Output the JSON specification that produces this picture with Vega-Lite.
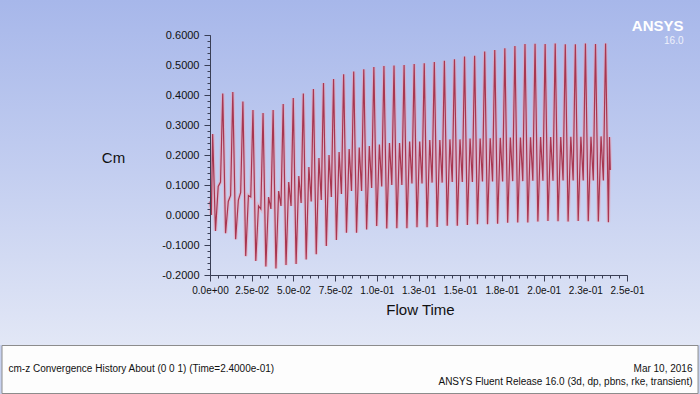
{
  "$schema": "https://vega.github.io/schema/vega-lite/v6.json",
  "width": 417,
  "height": 240,
  "autosize": {"type": "none"},
  "padding": {"left": 210, "top": 35, "right": 73, "bottom": 119},
  "background": "#c8d2f0",
  "config": {"view": {"stroke": null}, "font": "Liberation Sans"},
  "datasets": {
    "cm": [
      {"t":0,"cm":0.045},{"t":0.0008,"cm":0.0},
      {"t":0.0016,"cm":0.27},{"t":0.00329,"cm":-0.053},{"t":0.00492,"cm":0.095},{"t":0.00631,"cm":0.11},
      {"t":0.00764,"cm":0.405},{"t":0.00933,"cm":-0.061},{"t":0.01096,"cm":0.045},{"t":0.01235,"cm":0.065},
      {"t":0.01368,"cm":0.41},{"t":0.01537,"cm":-0.081},{"t":0.017,"cm":0.05},{"t":0.01839,"cm":0.075},
      {"t":0.01972,"cm":0.378},{"t":0.02141,"cm":-0.137},{"t":0.02304,"cm":0.065},{"t":0.02443,"cm":0.06},
      {"t":0.02576,"cm":0.35},{"t":0.02745,"cm":-0.153},{"t":0.02908,"cm":0.03},{"t":0.03047,"cm":0.02},
      {"t":0.0318,"cm":0.34},{"t":0.03349,"cm":-0.172},{"t":0.03512,"cm":0.06},{"t":0.03651,"cm":0.02},
      {"t":0.03784,"cm":0.35},{"t":0.03953,"cm":-0.178},{"t":0.04116,"cm":0.08},{"t":0.04255,"cm":0.03},
      {"t":0.04388,"cm":0.37},{"t":0.04557,"cm":-0.167},{"t":0.0472,"cm":0.11},{"t":0.04859,"cm":0.03},
      {"t":0.04992,"cm":0.39},{"t":0.05161,"cm":-0.163},{"t":0.05324,"cm":0.13},{"t":0.05463,"cm":0.04},
      {"t":0.05596,"cm":0.405},{"t":0.05765,"cm":-0.148},{"t":0.05928,"cm":0.16},{"t":0.06067,"cm":0.045},
      {"t":0.062,"cm":0.42},{"t":0.06369,"cm":-0.131},{"t":0.06532,"cm":0.19},{"t":0.06671,"cm":0.05},
      {"t":0.06804,"cm":0.44},{"t":0.06973,"cm":-0.103},{"t":0.07136,"cm":0.2},{"t":0.07275,"cm":0.06},
      {"t":0.07408,"cm":0.453},{"t":0.07577,"cm":-0.083},{"t":0.0774,"cm":0.21},{"t":0.07879,"cm":0.07},
      {"t":0.08012,"cm":0.469},{"t":0.08181,"cm":-0.059},{"t":0.08344,"cm":0.22},{"t":0.08483,"cm":0.08},
      {"t":0.08616,"cm":0.478},{"t":0.08785,"cm":-0.059},{"t":0.08948,"cm":0.225},{"t":0.09087,"cm":0.08},
      {"t":0.0922,"cm":0.486},{"t":0.09389,"cm":-0.048},{"t":0.09552,"cm":0.23},{"t":0.09691,"cm":0.09},
      {"t":0.09824,"cm":0.493},{"t":0.09993,"cm":-0.037},{"t":0.10156,"cm":0.235},{"t":0.10295,"cm":0.095},
      {"t":0.10428,"cm":0.497},{"t":0.10597,"cm":-0.045},{"t":0.1076,"cm":0.24},{"t":0.10899,"cm":0.1},
      {"t":0.11032,"cm":0.498},{"t":0.11201,"cm":-0.044},{"t":0.11364,"cm":0.24},{"t":0.11503,"cm":0.1},
      {"t":0.11636,"cm":0.5},{"t":0.11805,"cm":-0.044},{"t":0.11968,"cm":0.245},{"t":0.12107,"cm":0.105},
      {"t":0.1224,"cm":0.503},{"t":0.12409,"cm":-0.041},{"t":0.12572,"cm":0.245},{"t":0.12711,"cm":0.105},
      {"t":0.12844,"cm":0.506},{"t":0.13013,"cm":-0.041},{"t":0.13176,"cm":0.25},{"t":0.13315,"cm":0.108},
      {"t":0.13448,"cm":0.51},{"t":0.13617,"cm":-0.04},{"t":0.1378,"cm":0.25},{"t":0.13919,"cm":0.108},
      {"t":0.14052,"cm":0.514},{"t":0.14221,"cm":-0.036},{"t":0.14384,"cm":0.252},{"t":0.14523,"cm":0.11},
      {"t":0.14656,"cm":0.519},{"t":0.14825,"cm":-0.036},{"t":0.14988,"cm":0.252},{"t":0.15127,"cm":0.11},
      {"t":0.1526,"cm":0.528},{"t":0.15429,"cm":-0.033},{"t":0.15592,"cm":0.255},{"t":0.15731,"cm":0.11},
      {"t":0.15864,"cm":0.531},{"t":0.16033,"cm":-0.031},{"t":0.16196,"cm":0.255},{"t":0.16335,"cm":0.112},
      {"t":0.16468,"cm":0.545},{"t":0.16637,"cm":-0.031},{"t":0.168,"cm":0.256},{"t":0.16939,"cm":0.112},
      {"t":0.17072,"cm":0.55},{"t":0.17241,"cm":-0.029},{"t":0.17404,"cm":0.257},{"t":0.17543,"cm":0.112},
      {"t":0.17676,"cm":0.556},{"t":0.17845,"cm":-0.026},{"t":0.18008,"cm":0.258},{"t":0.18147,"cm":0.113},
      {"t":0.1828,"cm":0.563},{"t":0.18449,"cm":-0.025},{"t":0.18612,"cm":0.258},{"t":0.18751,"cm":0.113},
      {"t":0.18884,"cm":0.57},{"t":0.19053,"cm":-0.025},{"t":0.19216,"cm":0.259},{"t":0.19355,"cm":0.114},
      {"t":0.19488,"cm":0.571},{"t":0.19657,"cm":-0.022},{"t":0.1982,"cm":0.26},{"t":0.19959,"cm":0.114},
      {"t":0.20092,"cm":0.57},{"t":0.20261,"cm":-0.02},{"t":0.20424,"cm":0.26},{"t":0.20563,"cm":0.114},
      {"t":0.20696,"cm":0.572},{"t":0.20865,"cm":-0.021},{"t":0.21028,"cm":0.26},{"t":0.21167,"cm":0.115},
      {"t":0.213,"cm":0.569},{"t":0.21469,"cm":-0.022},{"t":0.21632,"cm":0.261},{"t":0.21771,"cm":0.115},
      {"t":0.21904,"cm":0.569},{"t":0.22073,"cm":-0.02},{"t":0.22236,"cm":0.261},{"t":0.22375,"cm":0.115},
      {"t":0.22508,"cm":0.572},{"t":0.22677,"cm":-0.021},{"t":0.2284,"cm":0.261},{"t":0.22979,"cm":0.115},
      {"t":0.23112,"cm":0.57},{"t":0.23281,"cm":-0.022},{"t":0.23444,"cm":0.262},{"t":0.23583,"cm":0.115},
      {"t":0.23716,"cm":0.572},{"t":0.23885,"cm":-0.024},{"t":0.2395,"cm":0.26},{"t":0.24,"cm":0.15}
    ]
  },
  "resolve": {"axis": {"x": "independent", "y": "independent"}},
  "layer": [
    {
      "data": {"values": [{}]},
      "mark": {
        "type": "rect",
        "clip": false,
        "fill": {
          "gradient": "linear",
          "x1": 0, "y1": 0, "x2": 0, "y2": 1,
          "stops": [
            {"offset": 0, "color": "#a7b7ea"},
            {"offset": 0.5, "color": "#c3cef0"},
            {"offset": 1, "color": "#e2e7f6"}
          ]
        }
      },
      "encoding": {
        "x": {
          "datum": -0.1259, "type": "quantitative",
          "scale": {"domain": [0, 0.25], "nice": false, "zero": false},
          "axis": {
            "orient": "top", "domain": false, "ticks": false, "labels": false, "grid": false,
            "title": "ANSYS", "titleFont": "Liberation Sans", "titleFontWeight": "bold",
            "titleFontSize": 15, "titleColor": "#ffffff", "titleX": 473, "titleY": -5,
            "titleAlign": "right", "titleBaseline": "alphabetic", "zindex": 1
          }
        },
        "x2": {"datum": 0.2938},
        "y": {
          "datum": 0.7167, "type": "quantitative",
          "scale": {"domain": [-0.2, 0.6], "nice": false, "zero": false},
          "axis": {
            "orient": "right", "domain": false, "ticks": false, "labels": false, "grid": false,
            "title": "16.0", "titleFont": "Liberation Sans", "titleAngle": 0, "titleFontSize": 10, "titleFontWeight": "normal",
            "titleColor": "#eef1fb", "titleX": 56, "titleY": 8,
            "titleAlign": "right", "titleBaseline": "alphabetic", "zindex": 1
          }
        },
        "y2": {"datum": -0.4333}
      }
    },
    {
      "data": {"values": [{}]},
      "mark": {"type": "rect", "clip": false, "fill": "#fdfdfd", "stroke": "#8c8c8c", "strokeWidth": 1},
      "encoding": {
        "x": {
          "datum": -0.1247, "type": "quantitative",
          "scale": {"domain": [0, 0.25], "nice": false, "zero": false},
          "axis": {
            "orient": "bottom", "domain": false, "ticks": false, "labels": false, "grid": false,
            "title": "cm-z Convergence History About (0 0 1)  (Time=2.4000e-01)",
            "titleFontSize": 10, "titleFontWeight": "normal", "titleColor": "#111111",
            "titleX": -202, "titleY": 96, "titleAlign": "left", "titleBaseline": "alphabetic", "zindex": 1
          }
        },
        "x2": {"datum": 0.2926},
        "y": {
          "datum": -0.435, "type": "quantitative",
          "scale": {"domain": [-0.2, 0.6], "nice": false, "zero": false},
          "axis": {
            "orient": "right", "domain": false, "ticks": false, "labels": false, "grid": false,
            "title": ["Mar 10, 2016", "ANSYS Fluent Release 16.0 (3d, dp, pbns, rke, transient)"],
            "titleAngle": 0, "titleFontSize": 10, "titleFontWeight": "normal", "titleColor": "#111111",
            "titleLineHeight": 13, "titleX": 65, "titleY": 336,
            "titleAlign": "right", "titleBaseline": "alphabetic", "zindex": 1
          }
        },
        "y2": {"datum": -0.595}
      }
    },
    {
      "data": {"name": "cm"},
      "mark": {"type": "line", "color": "#ee9fb0", "strokeWidth": 3.5, "opacity": 0.5},
      "encoding": {
        "x": {
          "field": "t", "type": "quantitative",
          "scale": {"domain": [0, 0.25], "nice": false, "zero": false},
          "axis": {
            "orient": "bottom", "grid": false,
            "values": [0, 0.025, 0.05, 0.075, 0.1, 0.125, 0.15, 0.175, 0.2, 0.225, 0.25],
            "labelExpr": "datum.value == 0 ? '0.0e+00' : replace(replace(format(datum.value + 1e-9, '.1e'), '−', '-'), 'e-', 'e-0')",
            "labelFontSize": 10, "labelColor": "#111111", "labelPadding": 4, "labelFlush": false, "labelOverlap": false,
            "tickSize": 6, "tickColor": "#3a3f55", "domainColor": "#3a3f55",
            "title": "Flow Time", "titleFontSize": 15, "titleFontWeight": "normal", "titleColor": "#111111",
            "titleX": 210, "titleY": 34, "titleAlign": "center", "titleBaseline": "middle", "zindex": 1
          }
        },
        "y": {
          "field": "cm", "type": "quantitative",
          "scale": {"domain": [-0.2, 0.6], "nice": false, "zero": false},
          "axis": {
            "orient": "left", "grid": false,
            "values": [-0.2, -0.1, 0, 0.1, 0.2, 0.3, 0.4, 0.5, 0.6],
            "labelExpr": "replace(format(datum.value, '.4f'), '−', '-')",
            "labelFontSize": 11, "labelColor": "#111111", "labelPadding": 5, "labelFlush": false, "labelOverlap": false,
            "tickSize": 6, "tickColor": "#3a3f55", "domainColor": "#3a3f55",
            "title": "Cm", "titleAngle": 0, "titleFontSize": 15, "titleFontWeight": "normal", "titleColor": "#111111",
            "titleX": -97, "titleY": 122, "titleAlign": "center", "titleBaseline": "middle", "zindex": 1
          }
        }
      }
    },
    {
      "data": {"name": "cm"},
      "mark": {"type": "line", "color": "#a83650", "strokeWidth": 1.2},
      "encoding": {
        "x": {
          "field": "t", "type": "quantitative",
          "scale": {"domain": [0, 0.25], "nice": false, "zero": false},
          "axis": {
            "orient": "bottom", "grid": false, "domain": false, "labels": false, "title": null,
            "values": [0,0.005,0.01,0.015,0.02,0.025,0.03,0.035,0.04,0.045,0.05,0.055,0.06,0.065,0.07,0.075,0.08,0.085,0.09,0.095,0.1,0.105,0.11,0.115,0.12,0.125,0.13,0.135,0.14,0.145,0.15,0.155,0.16,0.165,0.17,0.175,0.18,0.185,0.19,0.195,0.2,0.205,0.21,0.215,0.22,0.225,0.23,0.235,0.24,0.245,0.25],
            "tickSize": 3, "tickColor": "#3a3f55", "zindex": 1
          }
        },
        "y": {
          "field": "cm", "type": "quantitative",
          "scale": {"domain": [-0.2, 0.6], "nice": false, "zero": false},
          "axis": {
            "orient": "left", "grid": false, "domain": false, "labels": false, "title": null,
            "values": [-0.2,-0.18,-0.16,-0.14,-0.12,-0.1,-0.08,-0.06,-0.04,-0.02,0,0.02,0.04,0.06,0.08,0.1,0.12,0.14,0.16,0.18,0.2,0.22,0.24,0.26,0.28,0.3,0.32,0.34,0.36,0.38,0.4,0.42,0.44,0.46,0.48,0.5,0.52,0.54,0.56,0.58,0.6],
            "tickSize": 3, "tickColor": "#3a3f55", "zindex": 1
          }
        }
      }
    }
  ]
}
